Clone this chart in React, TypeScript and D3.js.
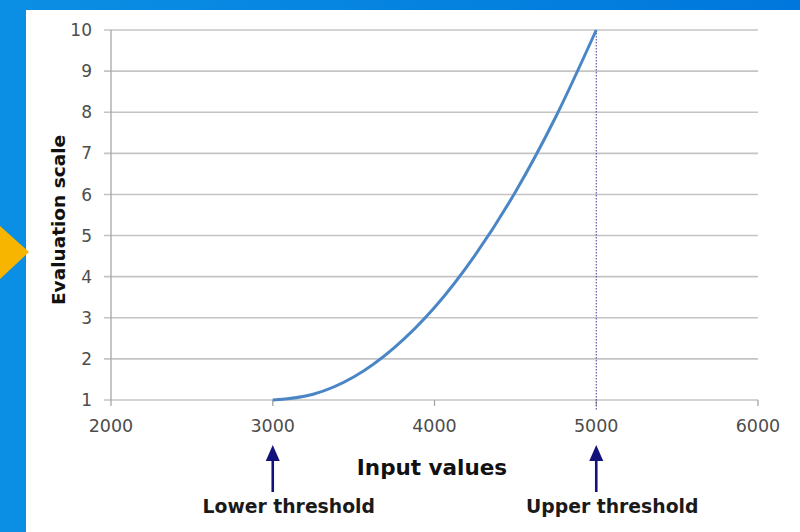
import React from 'react';
import * as d3 from 'd3';

// values
const inputValues = [3000, 3250, 3500, 3750, 4000, 4250, 4500, 4750, 5000];
const evaluation = [1, 1.14, 1.56, 2.27, 3.25, 4.52, 6.06, 7.89, 10];
const xTicks = [2000, 3000, 4000, 5000, 6000];
const yTicks = [1, 2, 3, 4, 5, 6, 7, 8, 9, 10];
const thresholds = [
  { value: 3000, label: 'Lower threshold' },
  { value: 5000, label: 'Upper threshold' },
];

const width = 800;
const height = 532;
const margin = { top: 30, right: 42, bottom: 132, left: 111 };
const font = '"DejaVu Sans", Verdana, sans-serif';

const App: React.FC = () => {
  const x = d3
    .scaleLinear()
    .domain([2000, 6000])
    .range([margin.left, width - margin.right]);
  const y = d3
    .scaleLinear()
    .domain([1, 10])
    .range([height - margin.bottom, margin.top]);

  const line = d3
    .line<number>()
    .x((d) => x(d))
    .y((_, i) => y(evaluation[i]))
    .curve(d3.curveMonotoneX);

  const y0 = y(1);

  return (
    <svg
      width={width}
      height={height}
      style={{ position: 'absolute', left: 0, top: 0, display: 'block' }}
    >
      <defs>
        <linearGradient id="bg" x1="0" x2="1" y1="0" y2="0">
          <stop offset="0" stopColor="#0b8fe4" />
          <stop offset="1" stopColor="#0077dc" />
        </linearGradient>
      </defs>
      <rect width={width} height={height} fill="url(#bg)" />
      <rect x={26} y={10} width={width - 26} height={height - 10} fill="#ffffff" />
      {/* orange pointer at left edge */}
      <path d="M0,226 L29,252 L0,279 Z" fill="#f8b500" />

      {/* gridlines */}
      {yTicks.map((t) => (
        <line
          key={`g${t}`}
          x1={margin.left - 7}
          x2={width - margin.right}
          y1={y(t)}
          y2={y(t)}
          stroke="#c4c4c4"
          strokeWidth={1.6}
        />
      ))}
      {/* y axis line */}
      <line x1={x(2000)} x2={x(2000)} y1={y(10)} y2={y0} stroke="#a6a6a6" strokeWidth={1.3} />
      {/* x ticks */}
      {xTicks.map((t) => (
        <line key={`xt${t}`} x1={x(t)} x2={x(t)} y1={y0} y2={y0 + 6} stroke="#a6a6a6" strokeWidth={1.3} />
      ))}
      {yTicks.map((t) => (
        <text
          key={`yl${t}`}
          x={margin.left - 19}
          y={y(t)}
          dy="0.36em"
          textAnchor="end"
          fontFamily={font}
          fontSize={17}
          fill="#4d4d4d"
        >
          {t}
        </text>
      ))}
      {xTicks.map((t) => (
        <text
          key={`xl${t}`}
          x={x(t)}
          y={y0 + 32}
          textAnchor="middle"
          fontFamily={font}
          fontSize={17.5}
          fill="#4d4d4d"
        >
          {t}
        </text>
      ))}

      {/* upper threshold dotted line */}
      <line
        x1={x(5000)}
        x2={x(5000)}
        y1={y(10)}
        y2={y0 + 11}
        stroke="#3a3aa0"
        strokeWidth={1}
        strokeDasharray="1.5,1.5"
      />

      <path d={line(inputValues) ?? ''} fill="none" stroke="#4a86c6" strokeWidth={3} />

      <text
        transform={`translate(65,220) rotate(-90)`}
        textAnchor="middle"
        fontFamily={font}
        fontSize={18.5}
        fontWeight="bold"
        fill="#111"
      >
        Evaluation scale
      </text>
      <text
        x={432}
        y={475}
        textAnchor="middle"
        fontFamily={font}
        fontSize={21.5}
        fontWeight="bold"
        fill="#111"
      >
        Input values
      </text>

      {thresholds.map((t) => (
        <g key={t.label}>
          <line x1={x(t.value)} x2={x(t.value)} y1={458} y2={492} stroke="#12127a" strokeWidth={2.6} />
          <path
            d={`M${x(t.value) - 7},461 L${x(t.value)},445 L${x(t.value) + 7},461 Z`}
            fill="#12127a"
          />
          <text
            x={x(t.value) + 16}
            y={513}
            textAnchor="middle"
            fontFamily={font}
            fontSize={18.8}
            fontWeight="bold"
            fill="#1a1a1a"
          >
            {t.label}
          </text>
        </g>
      ))}
    </svg>
  );
};

export default App;
